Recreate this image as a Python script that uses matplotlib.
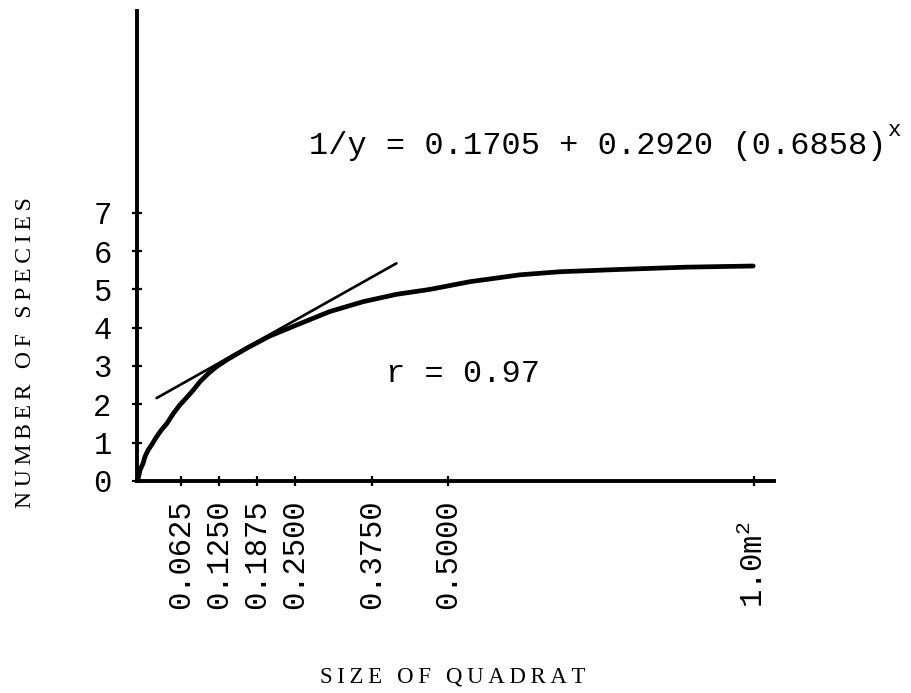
import matplotlib
matplotlib.use("Agg")
import matplotlib.pyplot as plt

# ---- data ----
curve_x = [-0.008, -0.004, 0.001, 0.004, 0.0095, 0.015, 0.023, 0.031, 0.040, 0.050,
           0.061, 0.072, 0.083, 0.094, 0.108, 0.121, 0.138, 0.170, 0.208, 0.252,
           0.306, 0.361, 0.415, 0.470, 0.535, 0.617, 0.682, 0.780, 0.889, 0.998]
curve_y = [0.0, 0.28, 0.46, 0.63, 0.81, 0.94, 1.15, 1.33, 1.50, 1.75,
           1.98, 2.17, 2.37, 2.59, 2.81, 2.98, 3.16, 3.46, 3.78, 4.07,
           4.42, 4.68, 4.87, 5.00, 5.20, 5.38, 5.46, 5.52, 5.58, 5.61]
tangent_x = [0.023, 0.415]
tangent_y = [2.16, 5.68]

x_ticks = [0.0625, 0.125, 0.1875, 0.25, 0.375, 0.5, 1.0]
x_tick_labels = ["0.0625", "0.1250", "0.1875", "0.2500", "0.3750", "0.5000", ""]
last_x_label = "1.0m$^2$"
y_ticks = [0, 1, 2, 3, 4, 5, 6, 7]
y_tick_labels = ["0", "1", "2", "3", "4", "5", "6", "7"]

equation = "1/y = 0.1705 + 0.2920 (0.6858)"
equation_sup = "x"
r_text = "r = 0.97"
x_label = "SIZE OF QUADRAT"
y_label = "NUMBER OF SPECIES"

# ---- styling ----
plt.rcParams["mathtext.fontset"] = "custom"
plt.rcParams["mathtext.rm"] = "Liberation Mono"
plt.rcParams["mathtext.it"] = "Liberation Mono"
MONO = ["Liberation Mono", "DejaVu Sans Mono"]
SERIF = ["Liberation Serif", "DejaVu Serif"]

W, H = 912, 693
fig = plt.figure(figsize=(W / 100, H / 100), dpi=100)
ax = fig.add_axes([137.3 / W, 1 - 480.8 / H, 636.7 / W, 469.8 / H])
ax.set_xlim(-0.0085, 1.032)
ax.set_ylim(0, 12.27)

for s in ("top", "right"):
    ax.spines[s].set_visible(False)
for s in ("left", "bottom"):
    ax.spines[s].set_linewidth(2.8)
    ax.spines[s].set_capstyle("projecting")

ax.plot(curve_x, curve_y, color="black", lw=3.4,
        solid_capstyle="round", solid_joinstyle="round")
ax.plot(tangent_x, tangent_y, color="black", lw=1.9, solid_capstyle="round")

ax.set_xticks(x_ticks)
ax.set_xticklabels(x_tick_labels, rotation=90, family=MONO, fontsize=22)
ax.set_yticks(y_ticks)
ax.set_yticklabels(y_tick_labels, family=MONO, fontsize=22)
ax.tick_params(axis="both", direction="inout", length=7, width=1.6, color="black")
ax.tick_params(axis="y", pad=15)
ax.tick_params(axis="x", pad=10)

ax.annotate(last_x_label, xy=(x_ticks[-1], 0), xycoords=("data", "axes fraction"),
            xytext=(0, -40), textcoords="offset pixels", rotation=90,
            ha="center", va="top", family=MONO, fontsize=22)

eq = fig.text(309 / W, 1 - 154.3 / H, equation, family=MONO, fontsize=23,
              ha="left", va="baseline")
ax.annotate(equation_sup, xy=(1, 1), xycoords=eq, xytext=(1, 8),
            textcoords="offset points", ha="left", va="top",
            family=MONO, fontsize=16)
fig.text(386 / W, 1 - 382 / H, r_text, family=MONO, fontsize=23,
         ha="left", va="baseline")


def spaced(s):
    return "\u2009".join(s)


fig.text(452.5 / W, 1 - 677.5 / H, spaced(x_label), family=SERIF, fontsize=16.5,
         ha="center", va="center")
fig.text(26 / W, 1 - 353 / H, spaced(y_label), family=SERIF, fontsize=17,
         ha="center", va="center", rotation=90)

fig.savefig("out.png", dpi=100, facecolor="white")
